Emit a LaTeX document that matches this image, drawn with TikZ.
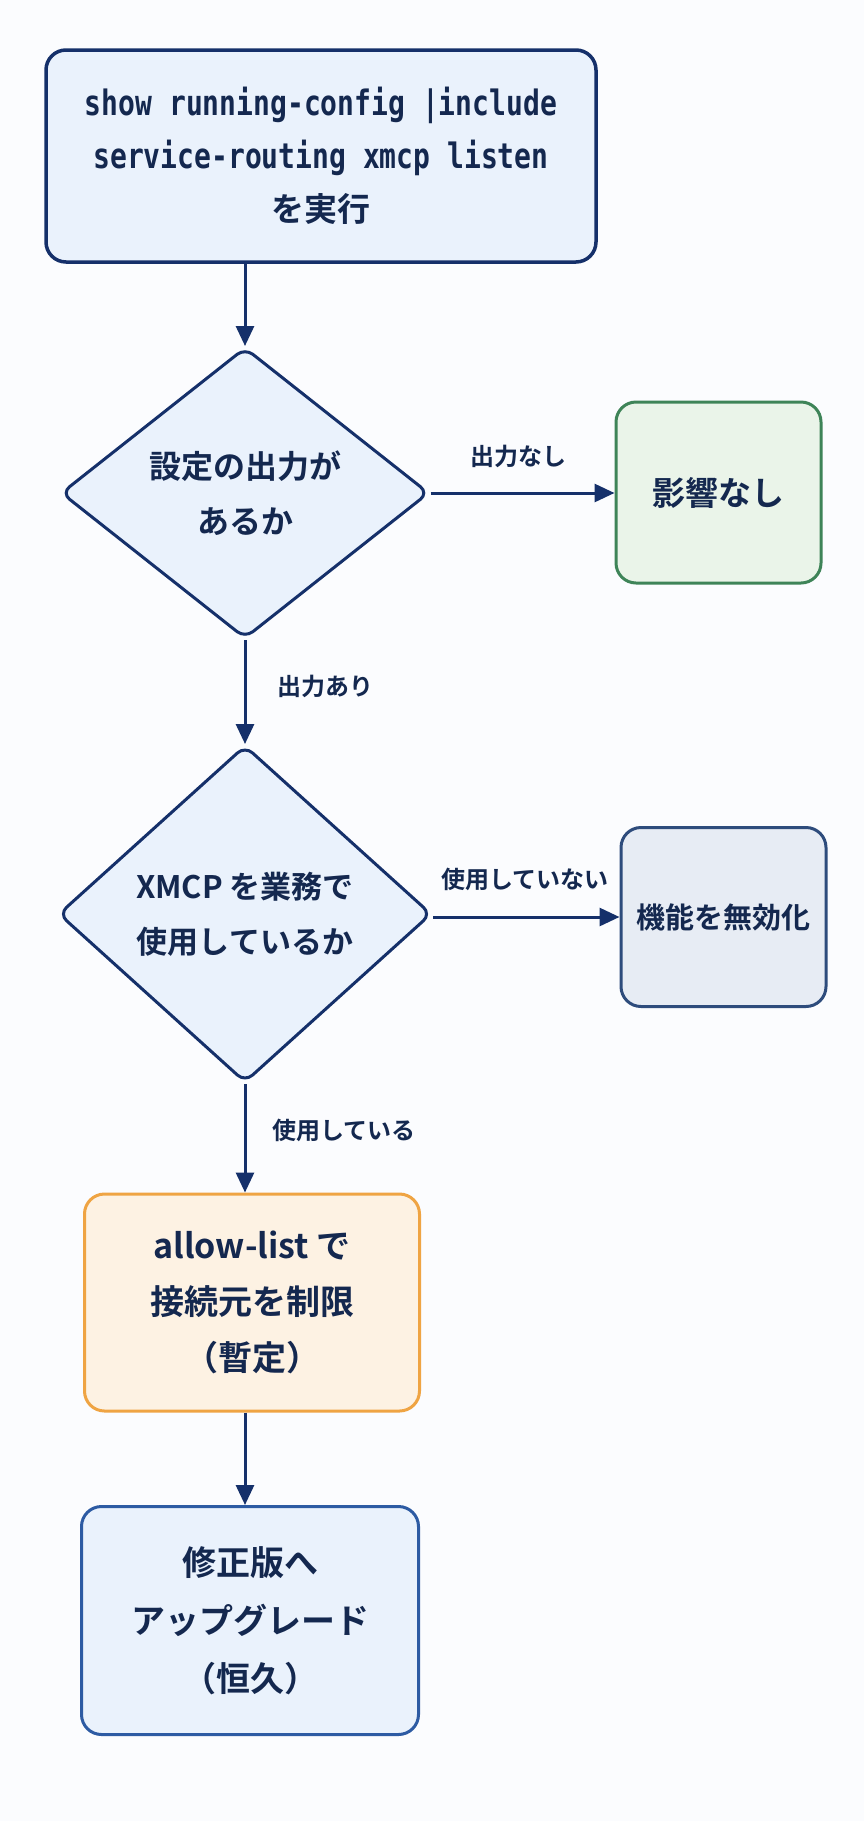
\documentclass[tikz,border=0pt]{standalone}
\usepackage{fontspec}
\setmainfont{Noto Sans CJK JP}[BoldFont={Noto Sans CJK JP Bold}]
\newfontfamily\cmdfont{DejaVu Sans Mono}[FakeStretch=0.8]
\usetikzlibrary{shapes.geometric,arrows.meta}
\definecolor{navy}{HTML}{15306A}
\definecolor{txt}{HTML}{14284F}
\definecolor{bg}{HTML}{FBFCFE}
\definecolor{bluefill}{HTML}{EAF2FC}
\definecolor{greenfill}{HTML}{EAF4E9}
\definecolor{greenline}{HTML}{3E8458}
\definecolor{grayfill}{HTML}{E7ECF4}
\definecolor{grayline}{HTML}{2E4C7C}
\definecolor{orfill}{HTML}{FDF2E3}
\definecolor{orline}{HTML}{EFA443}
\definecolor{blueline}{HTML}{2D5BA3}
\tikzset{
  box/.style={rectangle, rounded corners=20pt, line width=3pt, align=center, text=txt, inner sep=0pt,
    font=\bfseries\fontsize{33}{56}\selectfont},
  dia/.style={diamond, rounded corners=10pt, line width=3pt, draw=navy, fill=bluefill, align=center,
    text=txt, inner sep=0pt, aspect=1.26, font=\bfseries\fontsize{32}{55}\selectfont},
  arr/.style={draw=navy, line width=3pt, -{Triangle[length=20pt,width=18pt]}},
  lbl/.style={text=txt, font=\bfseries\fontsize{24}{28}\selectfont, inner sep=0pt}
}
\begin{document}
\begin{tikzpicture}[x=1pt,y=-1pt]
\fill[bg] (0,0) rectangle (864,1821);
\useasboundingbox (0,0) rectangle (864,1821);

\node[box, draw=navy, fill=bluefill, line width=3.5pt, minimum width=550pt, minimum height=212pt,
  font=\bfseries\fontsize{35}{53}\selectfont] (start) at (321,156)
  {\cmdfont show running-config |include\\
   \cmdfont service-routing xmcp listen\\
   {\fontsize{33}{53}\selectfont を実行}};

\node[dia, minimum width=368pt, minimum height=291pt] (d1) at (245,493) {設定の出力が\\あるか};
\node[box, draw=greenline, fill=greenfill, minimum width=205pt, minimum height=181pt] (none) at (718.5,492.5) {影響なし};

\node[dia, minimum width=373pt, minimum height=337pt, font=\bfseries\fontsize{31}{55}\selectfont] (d2) at (245,914) {XMCP を業務で\\使用しているか};
\node[box, draw=grayline, fill=grayfill, minimum width=205pt, minimum height=179pt,
  font=\bfseries\fontsize{29}{40}\selectfont] (dis) at (723.5,917) {機能を無効化};

\node[box, draw=orline, fill=orfill, minimum width=335pt, minimum height=217pt,
  font=\bfseries\fontsize{34}{56}\selectfont] (allow) at (252,1302.5) {allow-list で\\接続元を制限\\（暫定）};
\node[box, draw=blueline, fill=bluefill, minimum width=337pt, minimum height=228pt,
  font=\bfseries\fontsize{34}{58}\selectfont] (up) at (250,1620.5) {修正版へ\\アップグレード\\（恒久）};

\draw[arr] (d1.north |- start.south) -- (d1.north);
\draw[arr] (d1.east) -- (d1.east -| none.west);
\draw[arr] (d1.south) -- (d2.north);
\draw[arr] (d2.east |- dis.west) -- (dis.west);
\draw[arr] (d2.south) -- (d2.south |- allow.north);
\draw[arr] (d2.south |- allow.south) -- (d2.south |- up.north);

\node[lbl] (l1) at (518,456) {出力なし};
\node[lbl, anchor=west] (l2) at (277,686) {出力あり};
\node[lbl] (l3) at (525,879) {使用していない};
\node[lbl, anchor=west] (l4) at (272,1130) {使用している};
\end{tikzpicture}
\end{document}
